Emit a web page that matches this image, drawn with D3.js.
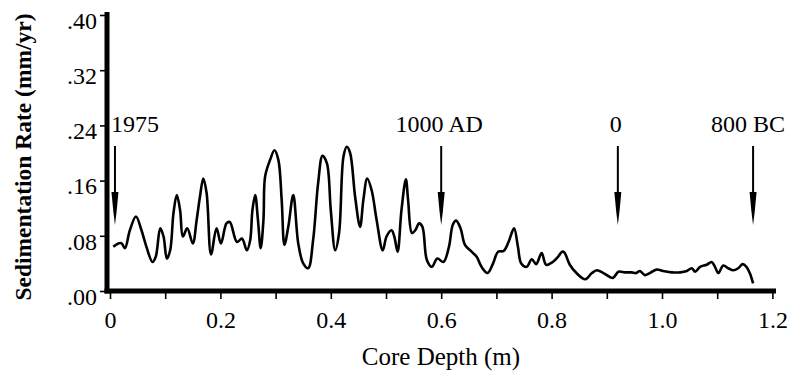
<!DOCTYPE html>
<html>
<head>
<meta charset="utf-8">
<script src="https://cdn.jsdelivr.net/npm/d3@7"></script>
<style>
  html, body { margin: 0; padding: 0; background: #fff; }
  svg { display: block; }
  text { font-family: "Liberation Serif", "Times New Roman", serif; fill: #000; }
</style>
</head>
<body>
<svg id="chart" width="791" height="376"></svg>
<script>
// Core depth (m) and sedimentation rate (mm/yr) along the core
const depth = [
  0.006, 0.015, 0.021, 0.027, 0.036, 0.047, 0.057, 0.066, 0.077, 0.083,
  0.091, 0.097, 0.103, 0.109, 0.115, 0.121, 0.127, 0.132, 0.140, 0.150,
  0.157, 0.163, 0.169, 0.175, 0.183, 0.193, 0.201, 0.211, 0.217, 0.230,
  0.239, 0.248, 0.254, 0.258, 0.263, 0.268, 0.273, 0.278, 0.281, 0.290,
  0.298, 0.305, 0.311, 0.316, 0.323, 0.332, 0.341, 0.350, 0.359, 0.368,
  0.377, 0.385, 0.393, 0.400, 0.408, 0.415, 0.423, 0.429, 0.435, 0.444,
  0.453, 0.459, 0.466, 0.474, 0.483, 0.494, 0.501, 0.510, 0.515, 0.521,
  0.528, 0.536, 0.540, 0.547, 0.553, 0.560, 0.566, 0.574, 0.583, 0.593,
  0.604, 0.614, 0.621, 0.627, 0.635, 0.643, 0.655, 0.664, 0.673, 0.684,
  0.694, 0.703, 0.713, 0.722, 0.732, 0.739, 0.745, 0.755, 0.764, 0.772,
  0.782, 0.790, 0.802, 0.812, 0.819, 0.823, 0.833, 0.845, 0.861, 0.873,
  0.882, 0.894, 0.911, 0.921, 0.933, 0.945, 0.953, 0.960, 0.969, 0.978,
  0.990, 1.002, 1.018, 1.033, 1.045, 1.054, 1.060, 1.069, 1.081, 1.090,
  1.096, 1.102, 1.111, 1.120, 1.129, 1.138, 1.146, 1.153, 1.159, 1.165
];
const rate = [
  0.064, 0.069, 0.069, 0.062, 0.088, 0.108, 0.088, 0.064, 0.042, 0.050,
  0.091, 0.079, 0.047, 0.059, 0.113, 0.139, 0.117, 0.079, 0.091, 0.069,
  0.103, 0.137, 0.163, 0.142, 0.053, 0.091, 0.069, 0.098, 0.100, 0.071,
  0.076, 0.059, 0.074, 0.117, 0.139, 0.103, 0.062, 0.103, 0.166, 0.190,
  0.204, 0.190, 0.132, 0.067, 0.093, 0.139, 0.069, 0.040, 0.033, 0.074,
  0.156, 0.196, 0.185, 0.117, 0.059, 0.084, 0.195, 0.209, 0.200, 0.137,
  0.093, 0.132, 0.163, 0.146, 0.103, 0.059, 0.079, 0.088, 0.079, 0.057,
  0.117, 0.162, 0.132, 0.084, 0.088, 0.098, 0.093, 0.045, 0.035, 0.047,
  0.042, 0.064, 0.096, 0.102, 0.091, 0.067, 0.057, 0.050, 0.035, 0.026,
  0.040, 0.057, 0.058, 0.071, 0.091, 0.064, 0.040, 0.035, 0.046, 0.039,
  0.055, 0.038, 0.042, 0.050, 0.057, 0.056, 0.038, 0.026, 0.017, 0.026,
  0.030, 0.026, 0.019, 0.028, 0.027, 0.027, 0.026, 0.029, 0.023, 0.026,
  0.031, 0.029, 0.027, 0.027, 0.029, 0.033, 0.028, 0.035, 0.038, 0.042,
  0.035, 0.026, 0.037, 0.033, 0.030, 0.033, 0.039, 0.035, 0.026, 0.011
];

// Dated horizons marked with arrows
const markerLabels = ["1975", "1000 AD", "0", "800 BC"];
const markerDepths = [0.009, 0.6, 0.92, 1.165];

// Axis ticks
const xTicks = [0, 0.1, 0.2, 0.3, 0.4, 0.5, 0.6, 0.7, 0.8, 0.9, 1.0, 1.1, 1.2];
const xTickLabels = ["0", "", "0.2", "", "0.4", "", "0.6", "", "0.8", "", "1.0", "", "1.2"];
const yTicks = [0, 0.08, 0.16, 0.24, 0.32, 0.40];
const yTickLabels = [".00", ".08", ".16", ".24", ".32", ".40"];

const svg = d3.select("#chart");

const x = d3.scaleLinear().domain([0, 1.2]).range([110, 772.4]);
const y = d3.scaleLinear().domain([0, 0.40]).range([291, 15]);

// Tick marks and labels
const xAxis = d3.axisBottom(x)
  .tickValues(xTicks)
  .tickSize(8)
  .tickPadding(12)
  .tickFormat((d, i) => xTickLabels[i]);
const gx = svg.append("g").attr("transform", "translate(0,291)").call(xAxis);
gx.select(".domain").remove();
gx.selectAll(".tick line").attr("stroke", "#000").attr("stroke-width", 1.6);
gx.selectAll(".tick text")
  .style("font-family", '"Liberation Serif", serif')
  .style("font-size", "24px")
  .attr("dy", "0.72em")
  .attr("fill", "#000");

const yAxis = d3.axisLeft(y)
  .tickValues(yTicks)
  .tickSize(5)
  .tickPadding(3)
  .tickFormat((d, i) => yTickLabels[i]);
const gy = svg.append("g").attr("transform", "translate(105,0)").call(yAxis);
gy.select(".domain").remove();
gy.selectAll(".tick line").attr("stroke", "#000").attr("stroke-width", 1.6);
gy.selectAll(".tick text")
  .style("font-family", '"Liberation Serif", serif')
  .style("font-size", "24px")
  .attr("dy", "0.55em")
  .attr("fill", "#000");

// Heavy axis frame lines
svg.append("line")
  .attr("x1", 107).attr("x2", 107)
  .attr("y1", 12).attr("y2", 293.5)
  .attr("stroke", "#000").attr("stroke-width", 5);
svg.append("line")
  .attr("x1", 104.5).attr("x2", 776)
  .attr("y1", 291).attr("y2", 291)
  .attr("stroke", "#000").attr("stroke-width", 5);

// Sedimentation rate curve
const pts = depth.map((d, i) => [d, rate[i]]);
const line = d3.line()
  .x(d => x(d[0]))
  .y(d => y(d[1]))
  .curve(d3.curveCatmullRom.alpha(0.5));
svg.append("path")
  .datum(pts)
  .attr("d", line)
  .attr("fill", "none")
  .attr("stroke", "#000")
  .attr("stroke-width", 2.6)
  .attr("stroke-linejoin", "round");

// Date markers: label, shaft and narrow arrowhead
const markers = svg.append("g");
markerDepths.forEach((d, i) => {
  const mx = x(d);
  const g = markers.append("g");
  g.append("line")
    .attr("x1", mx).attr("x2", mx)
    .attr("y1", 146).attr("y2", 200)
    .attr("stroke", "#000").attr("stroke-width", 2);
  g.append("path")
    .attr("d", `M${mx - 3.5},192 L${mx + 3.5},192 L${mx + 1.6},212 L${mx},225 L${mx - 1.6},212 Z`)
    .attr("fill", "#000");
  const first = i === 0;
  const last = i === markerDepths.length - 1;
  g.append("text")
    .attr("x", first ? mx - 4 : (last ? mx - 5 : mx - 2))
    .attr("y", 132)
    .attr("text-anchor", first ? "start" : "middle")
    .style("font-size", "24px")
    .text(markerLabels[i]);
});

// Axis titles
svg.append("text")
  .attr("x", 441)
  .attr("y", 365)
  .attr("text-anchor", "middle")
  .style("font-size", "25px")
  .text("Core Depth (m)");

svg.append("text")
  .attr("transform", "translate(31,157) rotate(-90)")
  .attr("text-anchor", "middle")
  .style("font-size", "23.5px")
  .style("font-weight", "bold")
  .text("Sedimentation Rate (mm/yr)");
</script>
</body>
</html>
